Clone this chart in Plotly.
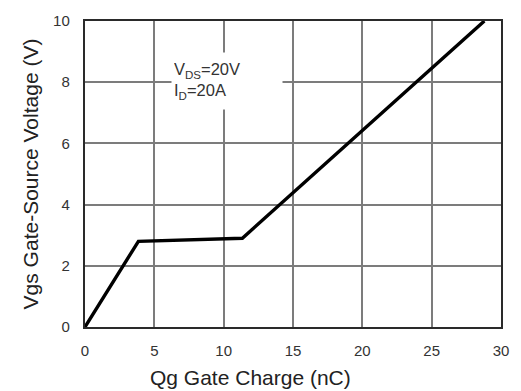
import plotly.graph_objects as go

# Data
qg_nc = [0, 3.85, 11.35, 28.8]
vgs_v = [0, 2.8, 2.9, 10]
x_ticks = [0, 5, 10, 15, 20, 25, 30]
y_ticks = [0, 2, 4, 6, 8, 10]

FONT = "Arial, Liberation Sans"

fig = go.Figure()
fig.add_trace(go.Scatter(x=qg_nc, y=vgs_v, mode="lines",
                         line=dict(color="black", width=3.4), showlegend=False))

axis_common = dict(showgrid=True, gridcolor="#7c7c7c", gridwidth=1.8,
                   showline=True, linecolor="#2a2a2a", linewidth=2.4, mirror=True,
                   zeroline=False, ticks="",
                   tickfont=dict(family=FONT, size=15, color="#333333"))

fig.update_xaxes(range=[0, 30], tickvals=x_ticks, ticklabelstandoff=9, **axis_common)
fig.update_yaxes(range=[0, 10], tickvals=y_ticks, ticklabelstandoff=10,
                 title=dict(text="Vgs Gate-Source Voltage (V)",
                            font=dict(family=FONT, size=21, color="#222222"), standoff=9),
                 **axis_common)

# x-axis title (offset left of centre, as in the reference)
fig.add_annotation(xref="paper", yref="paper", x=(252-85)/420, y=-(378-327)/308,
                   xanchor="center", yanchor="middle", showarrow=False,
                   text="Qg Gate Charge (nC)",
                   font=dict(family=FONT, size=21, color="#222222"))

fig.add_annotation(xref="paper", yref="paper", x=(172-85)/420, y=1-(50-19)/308,
                   xanchor="left", yanchor="top",
                   text="V<sub>DS</sub>=20V<br>I<sub>D</sub>=20A",
                   showarrow=False, align="left", bgcolor="white",
                   width=106, height=52, borderpad=2,
                   font=dict(family=FONT, size=16.5, color="#333333"))

fig.update_layout(width=521, height=391, margin=dict(l=85, r=16, t=19, b=64),
                  plot_bgcolor="white", paper_bgcolor="white")

fig.write_html("out.html")
